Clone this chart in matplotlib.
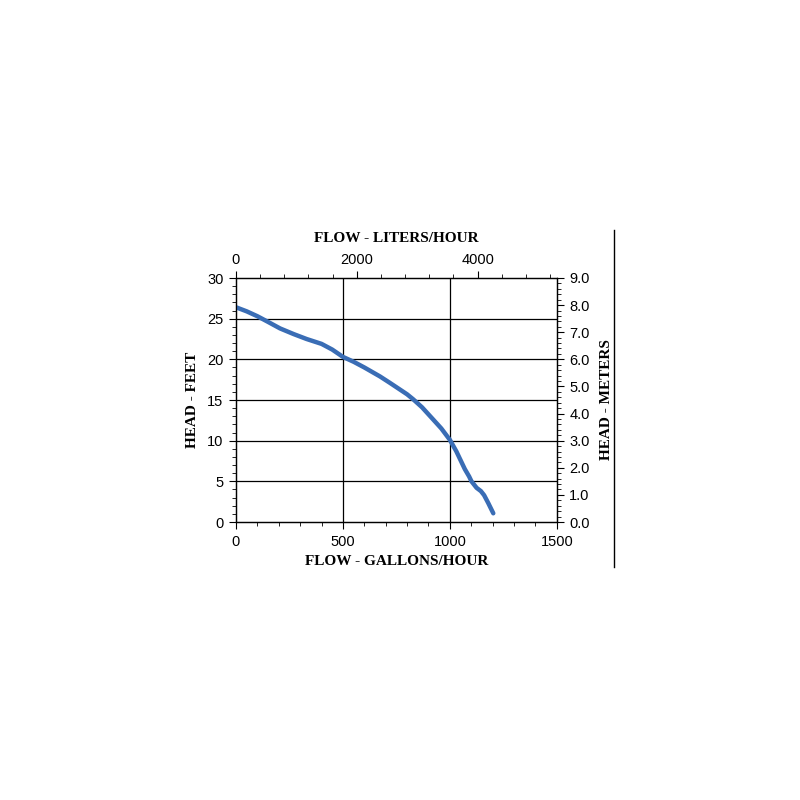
import matplotlib.pyplot as plt
from matplotlib.lines import Line2D
from matplotlib.ticker import MultipleLocator

# pump curve
flow_gph = [0, 50, 100, 150, 206, 270, 330, 400, 450, 500, 550, 600, 673, 720, 760, 800, 828,
            870, 922, 960, 1000, 1030, 1050, 1070, 1090, 1101, 1125, 1145, 1160, 1180, 1203]
head_ft = [26.4, 25.9, 25.3, 24.6, 23.8, 23.1, 22.5, 21.9, 21.2, 20.3, 19.7, 19.0, 17.9, 17.1, 16.4, 15.7, 15.1,
           14.1, 12.6, 11.5, 10.1, 8.7, 7.6, 6.5, 5.6, 5.0, 4.2, 3.8, 3.3, 2.3, 1.07]

gph_ticks = [0, 500, 1000, 1500]
lph_ticks = [0, 2000, 4000]
ft_ticks = [0, 5, 10, 15, 20, 25, 30]
m_ticks = [0, 1, 2, 3, 4, 5, 6, 7, 8, 9]

tick_font = {"family": "Liberation Sans", "size": 10.5}
lab_font = {"family": "Liberation Serif", "weight": "bold", "size": 11}

fig = plt.figure(figsize=(8, 8), dpi=100)
ax = fig.add_axes([0.295, 0.3475, 0.401, 0.305])

ax.plot(flow_gph, head_ft, color="#3a6db5", lw=3.2, solid_capstyle="round", zorder=3)

ax.set_xlim(0, 1500)
ax.set_ylim(0, 30)
ax.set_xticks(gph_ticks)
ax.set_yticks(ft_ticks)
ax.xaxis.set_minor_locator(MultipleLocator(100))
ax.yaxis.set_minor_locator(MultipleLocator(1))
ax.set_xticklabels([str(v) for v in gph_ticks], fontdict=tick_font)
ax.set_yticklabels([str(v) for v in ft_ticks], fontdict=tick_font)
ax.tick_params(which="major", length=5, width=0.8, direction="out", pad=4)
ax.tick_params(which="minor", length=3, width=0.6, direction="out")
for v in [500, 1000]:
    ax.axvline(v, color="black", lw=0.9, zorder=1)
for v in [5, 10, 15, 20, 25]:
    ax.axhline(v, color="black", lw=0.9, zorder=1)
for s in ax.spines.values():
    s.set_linewidth(0.9)

ax.set_xlabel("FLOW - GALLONS/HOUR", fontdict=lab_font, labelpad=5)
ax.set_ylabel("HEAD - FEET", fontdict=lab_font, labelpad=6)

# top: liters/hour
top = ax.twiny()
top.set_xlim(0, 5310)
top.set_xticks(lph_ticks)
top.set_xticklabels([str(v) for v in lph_ticks], fontdict=tick_font)
top.xaxis.set_minor_locator(MultipleLocator(400))
top.tick_params(which="major", length=5, width=0.8, direction="out", pad=3)
top.tick_params(which="minor", length=3, width=0.6, direction="out")
top.set_xlabel("FLOW - LITERS/HOUR", fontdict=lab_font, labelpad=8)

# right: meters
right = ax.twinx()
right.set_ylim(0, 9)
right.set_yticks(m_ticks)
right.set_yticklabels([f"{v:.1f}" for v in m_ticks], fontdict=tick_font)
right.yaxis.set_minor_locator(MultipleLocator(0.2))
right.tick_params(which="major", length=5, width=0.8, direction="out", pad=4)
right.tick_params(which="minor", length=3, width=0.6, direction="out")
right.set_ylabel("HEAD - METERS", fontdict=lab_font, labelpad=7)

# stray frame line on the right of the image
fig.add_artist(Line2D([0.7675, 0.7675], [1 - 567 / 800, 1 - 230 / 800], color="black", lw=1))

fig.savefig("out.png", dpi=100, facecolor="white")
